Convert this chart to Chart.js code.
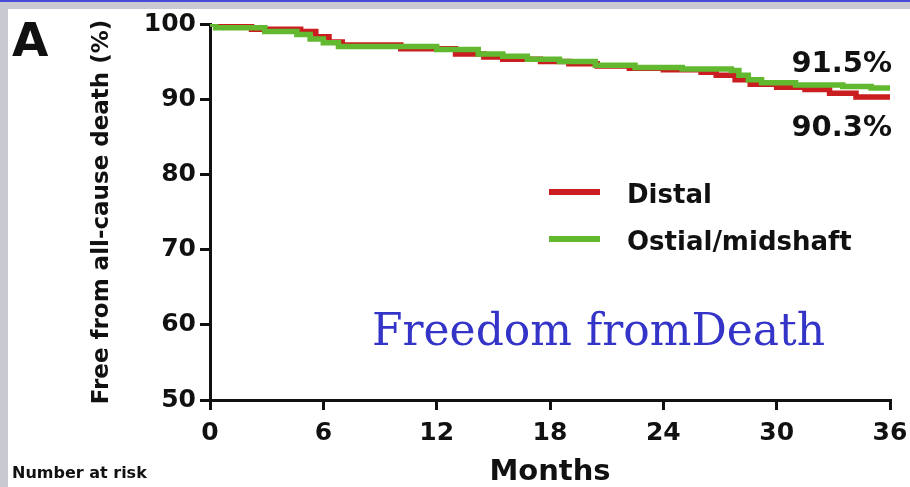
<!DOCTYPE html>
<html>
<head>
<meta charset="utf-8">
<title>Freedom from Death</title>
<script src="https://cdn.jsdelivr.net/npm/chart.js@4/dist/chart.umd.min.js"></script>
<style>
    html, body { margin: 0; padding: 0; background: #c9c9d1; }
    #wrap { position: absolute; left: 0; top: 0; width: 910px; height: 487px; }
    #topline { position: absolute; left: 0; top: 0; width: 910px; height: 2px; background: #4a4ad8; }
    #panel { position: absolute; left: 8px; top: 9px; right: 0; bottom: 0; background: #fff; }
    canvas { position: absolute; left: 0; top: 0; }
</style>
</head>
<body>
<div id="wrap">
    <div id="topline"></div>
    <div id="panel"></div>
    <canvas id="km-chart" width="910" height="487"></canvas>
</div>
<script>
// Kaplan-Meier data (months, % free from death)
const distalMonths = [0, 0.5, 2.2, 4.8, 5.6, 6.3, 7.0, 10.1, 13.0, 14.5, 15.5, 17.5, 19.0, 20.5, 22.2, 24.0, 26.0, 26.8, 27.8, 28.6, 30.0, 31.5, 32.8, 34.2, 36];
const distalValues = [100, 99.7, 99.3, 99.0, 98.3, 97.6, 97.2, 96.7, 96.0, 95.6, 95.3, 95.0, 94.7, 94.4, 94.1, 93.9, 93.6, 93.2, 92.6, 92.0, 91.6, 91.3, 90.8, 90.3, 90.3];

const ostialMonths = [0, 0.3, 2.9, 4.6, 5.3, 6.0, 6.8, 12.0, 14.2, 15.5, 16.8, 18.5, 20.4, 22.5, 25.0, 27.6, 28.0, 28.5, 29.2, 31.0, 33.5, 35.0, 36];
const ostialValues = [100, 99.5, 99.0, 98.6, 98.0, 97.5, 97.0, 96.6, 96.0, 95.7, 95.3, 95.0, 94.5, 94.2, 94.0, 93.8, 93.2, 92.6, 92.2, 91.9, 91.7, 91.5, 91.5];

const seriesLabels = ['Distal', 'Ostial/midshaft'];
const seriesColors = ['#c91d1f', '#62b930'];
const endLabels = ['91.5%', '90.3%'];
const xTicks = [0, 6, 12, 18, 24, 30, 36];
const yTicks = [50, 60, 70, 80, 90, 100];

const boldFont = 'DejaVu Sans';

function toPoints(xs, ys) {
    return xs.map((x, i) => ({ x: x, y: ys[i] }));
}

// Extra text: panel letter, legend, end labels, caption
const decorPlugin = {
    id: 'decor',
    afterDraw(chart) {
        const ctx = chart.ctx;
        ctx.save();
        ctx.fillStyle = '#111';
        ctx.textAlign = 'left';
        ctx.textBaseline = 'alphabetic';

        ctx.font = 'bold 47px "' + boldFont + '"';
        ctx.fillText('A', 12, 56);

        ctx.font = 'bold 16px "' + boldFont + '"';
        ctx.fillText('Number at risk', 12, 478);

        // legend
        const legendY = [192, 239];
        chart.data.datasets.forEach((ds, i) => {
            ctx.strokeStyle = ds.borderColor;
            ctx.lineWidth = 6;
            ctx.beginPath();
            ctx.moveTo(549, legendY[i]);
            ctx.lineTo(600, legendY[i]);
            ctx.stroke();
            ctx.fillStyle = '#111';
            ctx.font = 'bold 26px "' + boldFont + '"';
            ctx.fillText(ds.label, 627, legendY[i] + 11);
        });

        // end-of-follow-up labels
        ctx.textAlign = 'right';
        ctx.font = 'bold 29px "' + boldFont + '"';
        ctx.fillText(endLabels[0], 892, 72);
        ctx.fillText(endLabels[1], 892, 136);

        // caption
        ctx.textAlign = 'left';
        ctx.fillStyle = '#3434c8';
        ctx.font = '44px "DejaVu Serif"';
        ctx.fillText('Freedom fromDeath', 372, 345);
        ctx.restore();
    }
};

function initChart() {
    const ctx = document.getElementById('km-chart').getContext('2d');
    new Chart(ctx, {
        type: 'line',
        data: {
            datasets: [{
                label: seriesLabels[0],
                data: toPoints(distalMonths, distalValues),
                borderColor: seriesColors[0],
                order: 1
            }, {
                label: seriesLabels[1],
                data: toPoints(ostialMonths, ostialValues),
                borderColor: seriesColors[1],
                order: 0
            }]
        },
        options: {
            responsive: false,
            animation: false,
            layout: { padding: { top: 24, right: 20, bottom: 0, left: 0 } },
            elements: {
                line: { borderWidth: 5.5, stepped: 'before', tension: 0, borderCapStyle: 'butt', fill: false },
                point: { radius: 0, hoverRadius: 0 }
            },
            plugins: {
                legend: { display: false },
                tooltip: { enabled: false }
            },
            scales: {
                x: {
                    type: 'linear',
                    min: 0,
                    max: 36,
                    afterFit: s => { s.height = 87; s.paddingLeft = 0; s.paddingRight = 0; },
                    afterBuildTicks: s => { s.ticks = xTicks.map(v => ({ value: v })); },
                    grid: { drawOnChartArea: false, drawTicks: true, tickLength: 10, color: '#111', lineWidth: 3 },
                    border: { display: true, color: '#111', width: 3 },
                    ticks: { color: '#111', padding: 8, maxRotation: 0, font: { family: boldFont, weight: 'bold', size: 25 } },
                    title: {
                        display: true,
                        text: 'Months',
                        color: '#111',
                        padding: { top: 0, bottom: 0 },
                        font: { family: boldFont, weight: 'bold', size: 29, lineHeight: 1 }
                    }
                },
                y: {
                    min: 50,
                    max: 100,
                    afterFit: s => { s.width = 210; s.paddingTop = 0; s.paddingBottom = 0; },
                    afterBuildTicks: s => { s.ticks = yTicks.map(v => ({ value: v })); },
                    grid: { drawOnChartArea: false, drawTicks: true, tickLength: 10, color: '#111', lineWidth: 3 },
                    border: { display: true, color: '#111', width: 3 },
                    ticks: { color: '#111', padding: 4, font: { family: boldFont, weight: 'bold', size: 25 } },
                    title: {
                        display: true,
                        text: 'Free from all-cause death (%)',
                        color: '#111',
                        padding: { top: 91, bottom: 0 },
                        font: { family: boldFont, weight: 'bold', size: 23, lineHeight: 1 }
                    }
                }
            }
        },
        plugins: [decorPlugin]
    });
}

document.addEventListener('DOMContentLoaded', initChart);
</script>
</body>
</html>
